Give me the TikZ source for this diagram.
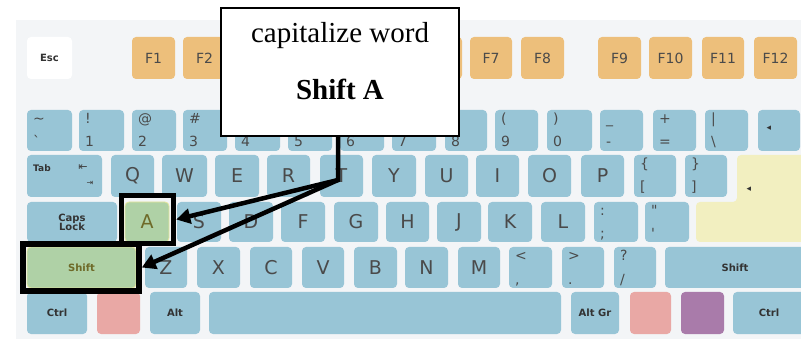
\documentclass[tikz,border=0pt]{standalone}
\usepackage{fontspec}
\setmainfont{Liberation Serif}
\newfontfamily\kf{DejaVu Sans}
\usetikzlibrary{arrows.meta,calc}
\definecolor{bgc}{HTML}{F3F5F7}
\definecolor{keyblue}{HTML}{98C5D6}
\definecolor{keytext}{HTML}{4A4A4A}
\definecolor{forange}{HTML}{EDBF7B}
\definecolor{kgreen}{HTML}{AFD1A6}
\definecolor{kgreenb}{HTML}{E6E69C}
\definecolor{kyellow}{HTML}{F2EFC0}
\definecolor{kpink}{HTML}{E9A8A5}
\definecolor{kpurple}{HTML}{A97BAA}
\definecolor{olivetext}{HTML}{6E6A28}
\newcommand\mk[7][]{\node[kb,minimum width=#5pt,minimum height=#6pt,#1] (#2) at ({#3+#5/2},{#4+#6/2}) {#7};}
\newcommand\dk[7]{\mk{#1}{#2}{#3}{#4}{#5}{}%
  \node[sym] (#1u) at ({#2+6},{#3+14}) {#6};%
  \node[sym] (#1l) at ({#2+6},{#3+37}) {#7};}
\begin{document}
\begin{tikzpicture}[x=1pt,y=-1pt,
  kb/.style={rectangle,rounded corners=4pt,inner sep=0pt,outer sep=0pt,fill=keyblue,
    text=keytext,font=\kf\fontsize{19}{19}\selectfont},
  fk/.style={kb,fill=forange,font=\kf\fontsize{14}{14}\selectfont},
  lbl/.style={font=\kf\bfseries\fontsize{10}{11}\selectfont,text=black!80},
  sym/.style={anchor=base west,inner sep=0pt,text=keytext,font=\kf\fontsize{14}{14}\selectfont},
  frame/.style={draw=black,line width=5.5pt,inner sep=0pt},
  conn/.style={draw=black,line width=4.5pt,line join=miter},
  tip/.style={-{Triangle[length=14pt,width=15pt]}}]
\useasboundingbox (0,0) rectangle (801,339);
\fill[bgc] (16,20) rectangle (801,339);
% function row
\mk[fill=white,lbl]{kesc}{27}{37}{45}{42}{Esc}
\mk[fk]{kf1}{132}{37}{43}{42}{F1}
\mk[fk]{kf2}{183}{37}{43}{42}{F2}
\mk[fk]{kf3}{235}{37}{43}{42}{F3}
\mk[fk]{kf4}{287}{37}{43}{42}{F4}
\mk[fk]{kf5}{367}{37}{43}{42}{F5}
\mk[fk]{kf6}{419}{37}{43}{42}{F6}
\mk[fk]{kf7}{470}{37}{42}{42}{F7}
\mk[fk]{kf8}{521}{37}{43}{42}{F8}
\mk[fk]{kf9}{598}{37}{43}{42}{F9}
\mk[fk]{kf10}{649}{37}{43}{42}{F10}
\mk[fk]{kf11}{702}{37}{42}{42}{F11}
\mk[fk]{kf12}{754}{37}{43}{42}{F12}
% number row
\dk{kgr}{27}{110}{45}{41}{\textasciitilde}{\char"60}
\dk{k1}{79}{110}{45}{41}{!}{1}
\dk{k2}{132}{110}{44}{41}{@}{2}
\dk{k3}{183}{110}{44}{41}{\#}{3}
\dk{k4}{235}{110}{45}{41}{\$}{4}
\dk{k5}{288}{110}{44}{41}{\%}{5}
\dk{k6}{340}{110}{44}{41}{\textasciicircum}{6}
\dk{k7}{392}{110}{44}{41}{\&}{7}
\dk{k8}{445}{110}{42}{41}{*}{8}
\dk{k9}{495}{110}{43}{41}{(}{9}
\dk{k0}{547}{110}{45}{41}{)}{0}
\dk{kmin}{600}{110}{43}{41}{\_}{-}
\dk{keq}{653}{110}{43}{41}{+}{=}
\dk{kbsl}{705}{110}{43}{41}{|}{\textbackslash}
\mk{kbsp}{758}{110}{42}{41}{}
\node[inner sep=0pt,text=black!80,font=\kf\fontsize{9}{9}\selectfont] (kbspa) at (769,128) {◂};
% qwerty row
\mk{ktab}{27}{155}{75}{42}{}
\node[lbl,font=\kf\bfseries\fontsize{9}{9}\selectfont,anchor=base west,inner sep=0pt] (ktabl) at (33,172) {Tab};
\node[inner sep=0pt,text=black!75,font=\kf\fontsize{11}{11}\selectfont] (ktabu) at (83,168) {⇤};
\node[inner sep=0pt,text=black!75,font=\kf\fontsize{8}{8}\selectfont] (ktabd) at (90,183) {⇥};
\mk{kq}{111}{155}{43}{42}{Q}
\mk{kw}{162}{155}{45}{42}{W}
\mk{ke}{215}{155}{44}{42}{E}
\mk{kr}{267}{155}{43}{42}{R}
\mk{kt}{320}{155}{43}{42}{T}
\mk{ky}{372}{155}{44}{42}{Y}
\mk{ku}{425}{155}{43}{42}{U}
\mk{ki}{476}{155}{43}{42}{I}
\mk{ko}{528}{155}{43}{42}{O}
\mk{kp}{581}{155}{43}{42}{P}
\dk{klb}{634}{155}{42}{42}{\{}{[}
\dk{krb}{685}{155}{42}{42}{\}}{]}
\fill[kyellow,rounded corners=4pt] (737,155) -- (805,155) -- (805,242) -- (696,242) -- (696,202) -- (737,202) -- cycle;
\node[inner sep=0pt,text=black!80,font=\kf\fontsize{9}{9}\selectfont] (kenta) at (749,189) {◂};
% home row
\mk[lbl,align=center]{kcaps}{27}{202}{90}{40}{Caps\\[-2pt]Lock}
\mk[fill=kgreen,draw=kgreenb,line width=0.8pt,text=olivetext]{ka}{125}{202}{44}{40}{A}
\mk{ks}{177}{202}{44}{40}{S}
\mk{kd}{229}{202}{44}{40}{D}
\mk{kf}{281}{202}{44}{40}{F}
\mk{kg}{334}{202}{44}{40}{G}
\mk{kh}{386}{202}{43}{40}{H}
\mk{kj}{437}{202}{44}{40}{J}
\mk{kk}{488}{202}{44}{40}{K}
\mk{kl}{541}{202}{44}{40}{L}
\dk{ksc}{594}{202}{44}{40}{:}{;}
\dk{kqu}{645}{202}{44}{40}{\char"22}{\char"27}
% shift row
\mk[fill=kgreen,draw=kgreenb,line width=0.8pt,lbl,text=olivetext]{klsh}{27}{247}{109}{41}{Shift}
\mk{kz}{145}{247}{42}{41}{Z}
\mk{kx}{197}{247}{43}{41}{X}
\mk{kc}{250}{247}{42}{41}{C}
\mk{kv}{302}{247}{42}{41}{V}
\mk{kb}{354}{247}{43}{41}{B}
\mk{kn}{405}{247}{43}{41}{N}
\mk{km}{458}{247}{42}{41}{M}
\dk{klt}{509}{247}{43}{41}{<}{,}
\dk{kgt}{562}{247}{42}{41}{>}{.}
\dk{kqm}{614}{247}{42}{41}{?}{/}
\mk[lbl]{krsh}{665}{247}{140}{41}{Shift}
% bottom row
\mk[lbl]{klct}{27}{292}{60}{42}{Ctrl}
\mk[fill=kpink]{klwin}{97}{292}{43}{42}{}
\mk[lbl]{kalt}{150}{292}{50}{42}{Alt}
\mk{kspc}{209}{292}{352}{42}{}
\mk[lbl]{kagr}{571}{292}{48}{42}{Alt Gr}
\mk[fill=kpink]{krwin}{630}{292}{41}{42}{}
\mk[fill=kpurple]{kmenu}{681}{292}{43}{42}{}
\mk[lbl]{krct}{733}{292}{72}{42}{Ctrl}
% highlight frames
\node[frame,minimum width=52pt,minimum height=48pt] (fA) at (147.5,219.5) {};
\node[frame,minimum width=116pt,minimum height=47pt] (fS) at (81,267.5) {};
% callout
\node[draw=black,fill=white,line width=2pt,minimum width=238pt,minimum height=128pt,inner sep=0pt] (call) at (340,72) {};
\node[anchor=base,inner sep=0pt,font=\fontsize{29}{34}\selectfont] (t1) at (340,43) {capitalize word};
\node[anchor=base,inner sep=0pt,font=\bfseries\fontsize{29}{34}\selectfont] (t2) at (340,100) {Shift A};
% connectors
\coordinate (J) at (338,180);
\draw[conn,tip] (call.south -| J) -- (J) -- (fA.east);
\draw[conn,tip] (J) -- (fS.east);
\end{tikzpicture}
\end{document}
